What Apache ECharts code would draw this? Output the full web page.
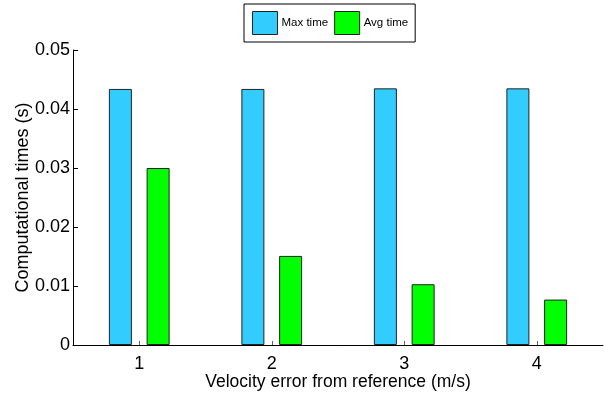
<!DOCTYPE html>
<html>
<head>
<meta charset="utf-8">
<script src="https://cdn.jsdelivr.net/npm/echarts@6/dist/echarts.min.js"></script>
<style>
html,body{margin:0;padding:0;background:#fff;}
#chart{width:605px;height:393px;}
</style>
</head>
<body>
<div id="chart"></div>
<script>
const categories = ['1', '2', '3', '4'];
const maxTime = [0.0434, 0.0434, 0.0435, 0.0435];
const avgTime = [0.0300, 0.0151, 0.0103, 0.0077];
const yTicks = [0, 0.01, 0.02, 0.03, 0.04, 0.05];

const font = 'Liberation Sans, Arial, Helvetica, sans-serif';
const chart = echarts.init(document.getElementById('chart'), null, {renderer: 'canvas'});
chart.setOption({
  animation: false,
  backgroundColor: '#fff',
  textStyle: {fontFamily: font},
  legend: {
    left: 244, top: 4,
    padding: [7, 7, 7, 8],
    itemWidth: 25, itemHeight: 23, itemGap: 6,
    borderColor: '#000', borderWidth: 1, backgroundColor: '#fff',
    textStyle: {fontSize: 11.5, color: '#000', fontFamily: font, padding: [0, 0, 0, -1]},
    data: [
      {name: 'Max time', icon: 'rect', itemStyle: {borderColor: '#222', borderWidth: 1}},
      {name: 'Avg time', icon: 'rect', itemStyle: {borderColor: '#222', borderWidth: 1}}
    ]
  },
  grid: {left: 73, right: 2, top: 50, bottom: 48, containLabel: false, outerBoundsMode: 'none'},
  xAxis: {
    type: 'category',
    data: categories,
    boundaryGap: true,
    axisLine: {lineStyle: {color: '#000', width: 1}},
    axisTick: {show: true, alignWithLabel: true, inside: true, length: 4, lineStyle: {color: '#666'}},
    axisLabel: {fontSize: 18, color: '#000', margin: 10, fontFamily: font},
    name: 'Velocity error from reference (m/s)',
    nameLocation: 'middle',
    nameGap: 28,
    nameMoveOverlap: false,
    nameTextStyle: {fontSize: 17.5, color: '#000', fontFamily: font},
    splitLine: {show: false}
  },
  yAxis: {
    type: 'value',
    min: yTicks[0], max: yTicks[yTicks.length - 1], interval: 0.01,
    axisLine: {show: true, lineStyle: {color: '#000', width: 1}},
    axisTick: {show: true, inside: true, length: 5, lineStyle: {color: '#000'}},
    axisLabel: {fontSize: 18, color: '#000', margin: 3, fontFamily: font,
      formatter: function (v) { return String(+v.toFixed(2)); }},
    splitLine: {show: false},
    name: 'Computational times (s)',
    nameLocation: 'middle',
    nameRotate: 90,
    nameGap: 41,
    nameMoveOverlap: false,
    nameTextStyle: {fontSize: 18, color: '#000', fontFamily: font}
  },
  series: [
    {
      name: 'Max time', type: 'bar', data: maxTime,
      barWidth: 23, barGap: '64%',
      itemStyle: {color: '#33CCFF', borderColor: '#222', borderWidth: 1}
    },
    {
      name: 'Avg time', type: 'bar', data: avgTime,
      barWidth: 23, barGap: '64%',
      itemStyle: {color: '#00FF00', borderColor: '#222', borderWidth: 1}
    }
  ]
});
</script>
</body>
</html>
